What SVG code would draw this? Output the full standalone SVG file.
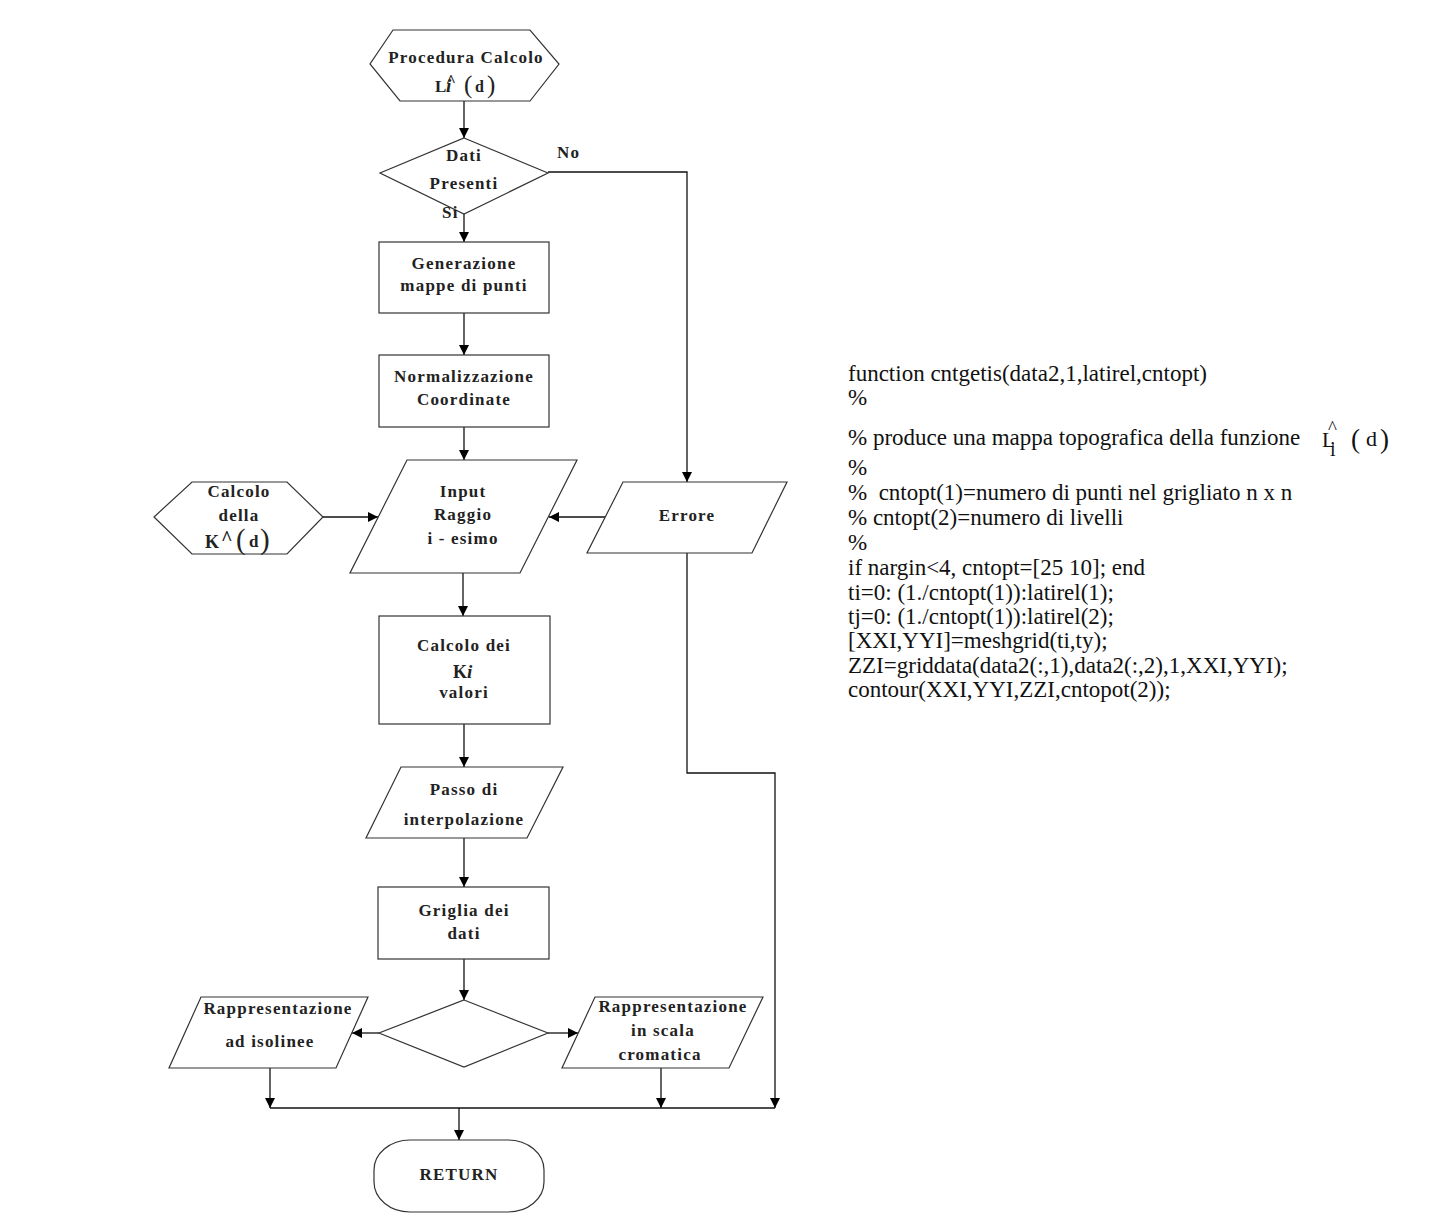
<svg xmlns="http://www.w3.org/2000/svg" width="1435" height="1231" viewBox="0 0 1435 1231">
<style>
.shape{fill:#fff;stroke:#333;stroke-width:1.2}
.conn{fill:none;stroke:#111;stroke-width:1.3}
.lbl{font-family:"Liberation Serif","Times New Roman",serif;font-weight:bold;font-size:17px;letter-spacing:1.2px;fill:#222;text-anchor:middle}
.mth{font-family:"Liberation Serif","Times New Roman",serif;fill:#222}
.code{font-family:"Liberation Serif","Times New Roman",serif;font-size:23px;fill:#111}
</style>
<defs>
<marker id="arr" markerWidth="10" markerHeight="10" refX="10" refY="5" orient="auto" markerUnits="userSpaceOnUse">
<path d="M0,0 L10,5 L0,10 Z" fill="#000"/>
</marker>
</defs>
<rect width="1435" height="1231" fill="#fff"/>

<g id="connectors">
<path class="conn" d="M464,101 L464,138" marker-end="url(#arr)"/>
<path class="conn" d="M548,172 L687,172 L687,482" marker-end="url(#arr)"/>
<path class="conn" d="M464,214 L464,242" marker-end="url(#arr)"/>
<path class="conn" d="M464,313 L464,355" marker-end="url(#arr)"/>
<path class="conn" d="M464,427 L464,460" marker-end="url(#arr)"/>
<path class="conn" d="M323,517 L378,517" marker-end="url(#arr)"/>
<path class="conn" d="M605,517 L549,517" marker-end="url(#arr)"/>
<path class="conn" d="M463,573 L463,616" marker-end="url(#arr)"/>
<path class="conn" d="M464,724 L464,767" marker-end="url(#arr)"/>
<path class="conn" d="M464,838 L464,887" marker-end="url(#arr)"/>
<path class="conn" d="M464,959 L464,1000" marker-end="url(#arr)"/>
<path class="conn" d="M379,1033 L352,1033" marker-end="url(#arr)"/>
<path class="conn" d="M548,1033 L578,1033" marker-end="url(#arr)"/>
<path class="conn" d="M270,1068 L270,1108" marker-end="url(#arr)"/>
<path class="conn" d="M661,1068 L661,1108" marker-end="url(#arr)"/>
<path class="conn" d="M687,553 L687,773 L775,773 L775,1108" marker-end="url(#arr)"/>
<path class="conn" d="M270,1108 L775,1108"/>
<path class="conn" d="M459,1108 L459,1140" marker-end="url(#arr)"/>
</g>

<g id="start">
<polygon class="shape" points="393,30 530,30 559,64 530,101 400,101 370,64"/>
<text class="lbl" x="466" y="63">Procedura Calcolo</text>
<text class="mth" x="435" y="92" style="font-size:17px;font-weight:bold">L</text>
<text class="mth" x="446" y="92" style="font-size:19px;font-weight:bold;font-style:italic">i</text>
<text class="mth" x="446" y="86" style="font-size:17px;font-weight:bold">^</text>
<text class="mth" x="464" y="93" style="font-size:25px">(</text>
<text class="mth" x="475" y="92" style="font-size:16px;font-weight:bold">d</text>
<text class="mth" x="487" y="93" style="font-size:25px">)</text>
</g>

<g id="decision-dati">
<polygon class="shape" points="464,138 548,173 464,214 380,173"/>
<text class="lbl" x="464" y="161">Dati</text>
<text class="lbl" x="464" y="189">Presenti</text>
<text class="lbl" x="557" y="158" style="text-anchor:start">No</text>
<text class="lbl" x="442" y="218" style="text-anchor:start">Si</text>
</g>

<g id="generazione">
<rect class="shape" x="379" y="242" width="170" height="71"/>
<text class="lbl" x="464" y="269">Generazione</text>
<text class="lbl" x="464" y="291">mappe di punti</text>
</g>

<g id="normalizzazione">
<rect class="shape" x="379" y="355" width="170" height="72"/>
<text class="lbl" x="464" y="382">Normalizzazione</text>
<text class="lbl" x="464" y="405">Coordinate</text>
</g>

<g id="calcolo-k">
<polygon class="shape" points="192,482 287,482 323,517 287,554 192,554 154,517"/>
<text class="lbl" x="239" y="497">Calcolo</text>
<text class="lbl" x="239" y="521">della</text>
<text class="mth" x="205" y="548" style="font-size:18px;font-weight:bold">K</text>
<text class="mth" x="221" y="545" style="font-size:20px;font-weight:bold">^</text>
<text class="mth" x="236" y="549" style="font-size:29px">(</text>
<text class="mth" x="249" y="547" style="font-size:17px;font-weight:bold">d</text>
<text class="mth" x="260" y="549" style="font-size:29px">)</text>
</g>

<g id="input">
<polygon class="shape" points="407,460 577,460 520,573 350,573"/>
<text class="lbl" x="463" y="497">Input</text>
<text class="lbl" x="463" y="520">Raggio</text>
<text class="lbl" x="463" y="544">i - esimo</text>
</g>

<g id="errore">
<polygon class="shape" points="623,482 787,482 752,553 587,553"/>
<text class="lbl" x="687" y="521">Errore</text>
</g>

<g id="calcolo-dei">
<rect class="shape" x="379" y="616" width="171" height="108"/>
<text class="lbl" x="464" y="651">Calcolo dei</text>
<text class="mth" x="453" y="678" style="font-size:18px;font-weight:bold">K</text>
<text class="mth" x="467" y="678" style="font-size:19px;font-weight:bold;font-style:italic">i</text>
<text class="lbl" x="464" y="698">valori</text>
</g>

<g id="passo">
<polygon class="shape" points="401,767 563,767 527,838 366,838"/>
<text class="lbl" x="464" y="795">Passo di</text>
<text class="lbl" x="464" y="825">interpolazione</text>
</g>

<g id="griglia">
<rect class="shape" x="378" y="887" width="171" height="72"/>
<text class="lbl" x="464" y="916">Griglia dei</text>
<text class="lbl" x="464" y="939">dati</text>
</g>

<g id="decision-rappr">
<polygon class="shape" points="464,1000 548,1033 464,1067 379,1033"/>
</g>

<g id="isolinee">
<polygon class="shape" points="201,997 368,997 336,1068 169,1068"/>
<text class="lbl" x="278" y="1014">Rappresentazione</text>
<text class="lbl" x="270" y="1047">ad isolinee</text>
</g>

<g id="cromatica">
<polygon class="shape" points="595,997 763,997 729,1068 562,1068"/>
<text class="lbl" x="673" y="1012">Rappresentazione</text>
<text class="lbl" x="663" y="1036">in scala</text>
<text class="lbl" x="660" y="1060">cromatica</text>
</g>

<g id="return">
<rect class="shape" x="374" y="1140" width="170" height="72" rx="36" ry="30"/>
<text class="lbl" x="459" y="1180">RETURN</text>
</g>

<g id="code">
<text class="code" x="848" y="381">function cntgetis(data2,1,latirel,cntopt)</text>
<text class="code" x="848" y="405">%</text>
<text class="code" x="848" y="445">% produce una mappa topografica della funzione</text>
<text class="code" x="1322" y="447" style="font-size:21px">L</text>
<text class="code" x="1330" y="456" style="font-size:20px">i</text>
<text class="code" x="1328" y="434" style="font-size:19px">^</text>
<text class="code" x="1351" y="448" style="font-size:27px">(</text>
<text class="code" x="1366" y="446" style="font-size:22px">d</text>
<text class="code" x="1380" y="448" style="font-size:27px">)</text>
<text class="code" x="848" y="475">%</text>
<text class="code" x="848" y="500" xml:space="preserve">%  cntopt(1)=numero di punti nel grigliato n x n</text>
<text class="code" x="848" y="525">% cntopt(2)=numero di livelli</text>
<text class="code" x="848" y="550">%</text>
<text class="code" x="848" y="575">if nargin&lt;4, cntopt=[25 10]; end</text>
<text class="code" x="848" y="600">ti=0: (1./cntopt(1)):latirel(1);</text>
<text class="code" x="848" y="624">tj=0: (1./cntopt(1)):latirel(2);</text>
<text class="code" x="848" y="648">[XXI,YYI]=meshgrid(ti,ty);</text>
<text class="code" x="848" y="673">ZZI=griddata(data2(:,1),data2(:,2),1,XXI,YYI);</text>
<text class="code" x="848" y="697">contour(XXI,YYI,ZZI,cntopot(2));</text>
</g>
</svg>
